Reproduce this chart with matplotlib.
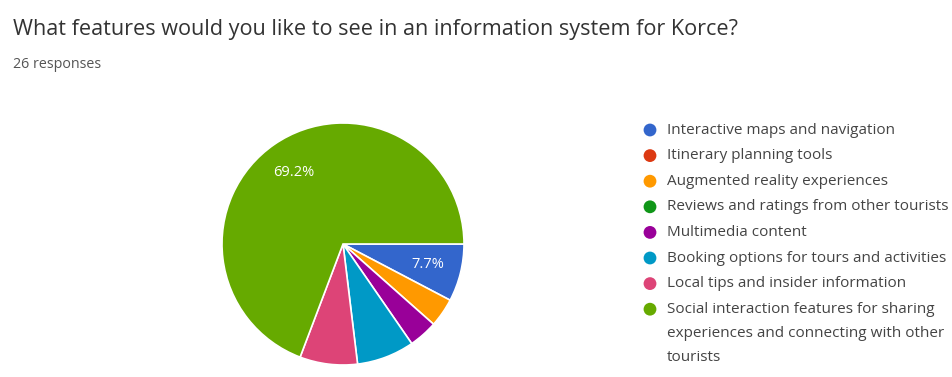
import math
import matplotlib
matplotlib.use("Agg")
import matplotlib.pyplot as plt

plt.rcParams['font.family'] = ['Open Sans', 'DejaVu Sans']

title = "What features would you like to see in an information system for Korce?"
subtitle = "26 responses"

categories = [
    "Interactive maps and navigation",
    "Itinerary planning tools",
    "Augmented reality experiences",
    "Reviews and ratings from other tourists",
    "Multimedia content",
    "Booking options for tours and activities",
    "Local tips and insider information",
    "Social interaction features for sharing\nexperiences and connecting with other\ntourists",
]
counts = [2, 0, 1, 0, 1, 2, 2, 18]
colors = ["#3366cc", "#dc3912", "#ff9900", "#109618",
          "#990099", "#0099c6", "#dd4477", "#66aa00"]
labelled = [0, 7]

W, H = 953, 377
fig = plt.figure(figsize=(W / 100, H / 100), dpi=100)
fig.patch.set_facecolor("white")

fig.text(13 / W, 1 - 30 / H, title, fontsize=15.6, color="#333333",
         va="center", ha="left")
fig.text(13 / W, 1 - 64 / H, subtitle, fontsize=10.3, color="#555555",
         va="center", ha="left")

# pie
cx, cy, r = 343, 244, 121
ax = fig.add_axes([(cx - r) / W, (H - cy - r) / H, 2 * r / W, 2 * r / H])
total = sum(counts)
nz = [i for i, c in enumerate(counts) if c > 0]
wedges, _ = ax.pie([counts[i] for i in nz], colors=[colors[i] for i in nz],
                   startangle=0, counterclock=False, radius=1,
                   wedgeprops=dict(edgecolor="white", linewidth=1.2))
theta = 0.0
for i in nz:
    frac = counts[i] / total
    mid = theta - frac * 180.0
    theta -= frac * 360.0
    if i in labelled:
        d = 0.72
        ax.text(d * math.cos(math.radians(mid)), d * math.sin(math.radians(mid)),
                f"{100 * frac:.1f}%", color="white", fontsize=10.5,
                ha="center", va="center")
ax.set_xlim(-1, 1)
ax.set_ylim(-1, 1)
ax.set_aspect("equal")
ax.axis("off")

# legend
leg = fig.add_axes([0, 0, 1, 1])
leg.set_xlim(0, W)
leg.set_ylim(H, 0)
leg.axis("off")
y = 130
step = 25.6
line_h = 24.0
for name, col in zip(categories, colors):
    leg.scatter([650], [y], s=85, color=col, edgecolors="none")
    for k, part in enumerate(name.split("\n")):
        leg.text(667, y + k * line_h, part, fontsize=11, color="#444444",
                 va="center", ha="left")
    y += step + line_h * name.count("\n")

fig.savefig("out.png", dpi=100, facecolor="white")
